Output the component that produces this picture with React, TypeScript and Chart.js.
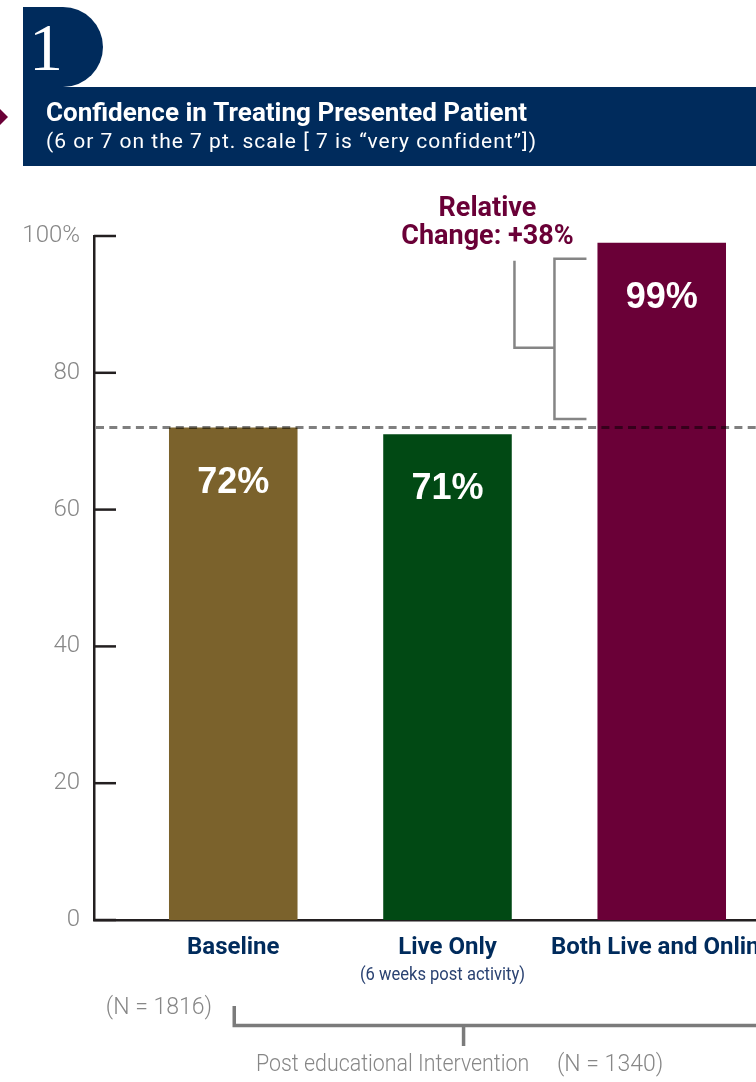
import React, { useEffect, useRef } from 'react';
import { Chart, registerables } from 'chart.js';

Chart.register(...registerables);

// ---- data ----
const categories = ['Baseline', 'Live Only', 'Both Live and Online'];
const subLabels = ['', '(6 weeks post activity)', ''];
const values = [72, 71, 99];
const barColors = ['#7b622c', '#014914', '#6a0037'];
const yTicks = [0, 20, 40, 60, 80, 100];
const baselineN = '(N = 1816)';
const postN = '(N = 1340)';
const postLabel = 'Post educational Intervention';
const panelNumber = '1';
const title = 'Confidence in Treating Presented Patient';
const subtitle = '(6 or 7 on the 7 pt. scale [ 7 is \u201cvery confident\u201d])';

// relative change between baseline and the combined live + online group
const relativeChange = Math.round(((values[2] - values[0]) / values[0]) * 100);

// ---- styles ----
const W = 756;
const H = 1082;
const NAVY = '#002b5c';
const MAROON = '#6a0037';
const AXIS = '#231f20';
const GRAY_TEXT = '#878787';
const BRACKET = '#858585';

function drawText(
  ctx: CanvasRenderingContext2D,
  text: string,
  x: number,
  y: number,
  font: string,
  color: string,
  align: CanvasTextAlign = 'left',
  squeeze = 1,
  spacing = 0
) {
  ctx.save();
  ctx.font = font;
  ctx.fillStyle = color;
  ctx.textBaseline = 'alphabetic';
  ctx.textAlign = align;
  (ctx as any).letterSpacing = `${spacing}px`;
  ctx.translate(x, y);
  ctx.scale(squeeze, 1);
  ctx.fillText(text, 0, 0);
  ctx.restore();
}

function line(ctx: CanvasRenderingContext2D, pts: number[][], color: string, width: number) {
  ctx.save();
  ctx.strokeStyle = color;
  ctx.lineWidth = width;
  ctx.lineJoin = 'miter';
  ctx.beginPath();
  pts.forEach(([x, y], i) => (i === 0 ? ctx.moveTo(x, y) : ctx.lineTo(x, y)));
  ctx.stroke();
  ctx.restore();
}

// header: panel badge, title banner and the small pointer on the left
const headerPlugin = {
  id: 'header',
  beforeDraw(chart: Chart) {
    const ctx = chart.ctx;
    ctx.save();
    ctx.fillStyle = '#ffffff';
    ctx.fillRect(0, 0, chart.width, chart.height);

    ctx.fillStyle = MAROON;
    ctx.beginPath();
    ctx.moveTo(0, 109);
    ctx.lineTo(8, 117);
    ctx.lineTo(0, 125);
    ctx.closePath();
    ctx.fill();

    ctx.fillStyle = NAVY;
    ctx.beginPath();
    ctx.moveTo(23, 7);
    ctx.lineTo(63, 7);
    ctx.arc(63, 47, 40, -Math.PI / 2, Math.PI / 2);
    ctx.lineTo(23, 87);
    ctx.closePath();
    ctx.fill();
    ctx.fillRect(23, 87, chart.width - 23, 79);
    ctx.restore();

    drawText(ctx, panelNumber, 46, 70, "68px 'Liberation Serif'", '#ffffff', 'center');
    drawText(ctx, title, 46, 120.5, 'bold 26px Roboto', '#ffffff');
    drawText(ctx, subtitle, 46, 148, '21px Roboto', '#ffffff', 'left', 1, 1);
  },
};

// axis ticks pointing inward, reference line, value labels and annotations
const annotationPlugin = {
  id: 'annotations',
  afterDatasetsDraw(chart: Chart) {
    const ctx = chart.ctx;
    const xs = chart.scales.x;
    const ys = chart.scales.y;
    const area = chart.chartArea;
    const meta = chart.getDatasetMeta(0);

    // inward tick marks on the value axis
    yTicks.forEach((v) => {
      const y = ys.getPixelForValue(v);
      line(ctx, [[area.left, y], [area.left + 22, y]], AXIS, 2.5);
    });

    // dashed baseline reference
    const baseY = ys.getPixelForValue(values[0]);
    ctx.save();
    ctx.strokeStyle = 'rgba(0,0,0,0.5)';
    ctx.lineWidth = 3;
    ctx.setLineDash([8, 5.3]);
    ctx.beginPath();
    ctx.moveTo(area.left + 2, baseY);
    ctx.lineTo(area.right, baseY);
    ctx.stroke();
    ctx.restore();

    // value labels inside the bars
    meta.data.forEach((el: any, i: number) => {
      drawText(ctx, `${values[i]}%`, el.x, el.y + 65, "bold 36px 'Liberation Sans'", '#ffffff', 'center');
    });

    // category labels
    categories.forEach((c, i) => {
      const x = xs.getPixelForValue(i);
      drawText(ctx, c, x, 954, 'bold 24px Roboto', NAVY, 'center');
      if (subLabels[i]) drawText(ctx, subLabels[i], x - 5, 980, '18px Roboto', '#2a4272', 'center', 0.92);
    });

    // relative change bracket
    const top: any = meta.data[2];
    const barLeft = top.x - top.width / 2;
    const yTop = top.y + 16;
    const yBot = baseY - 8.5;
    const spine = barLeft - 43;
    const armEnd = barLeft - 11;
    const stubX = barLeft - 83;
    const stubY = yTop + 89;
    line(ctx, [[armEnd, yTop], [spine, yTop], [spine, yBot], [armEnd, yBot]], BRACKET, 2.5);
    line(ctx, [[stubX, yTop + 2], [stubX, stubY], [spine, stubY]], BRACKET, 2.5);
    drawText(ctx, 'Relative', stubX - 27, yTop - 42.5, 'bold 27px Roboto', MAROON, 'center');
    drawText(ctx, `Change: +${relativeChange}%`, stubX - 27, yTop - 15, 'bold 27px Roboto', MAROON, 'center');

    // sample sizes and post-intervention bracket
    const bx = xs.getPixelForValue(0) + 1;
    const by = 1025.5;
    const midX = xs.getPixelForValue(1.075);
    line(ctx, [[bx, 1006], [bx, by], [chart.width, by]], '#7b7b7b', 3.5);
    line(ctx, [[midX, by], [midX, 1046]], '#7b7b7b', 3.5);
    drawText(ctx, baselineN, 212, 1013.5, '300 23px Roboto', GRAY_TEXT, 'right');
    drawText(ctx, postLabel, 256, 1071, '300 23px Roboto', GRAY_TEXT, 'left', 0.93);
    drawText(ctx, postN, 557, 1071, '300 23px Roboto', GRAY_TEXT, 'left');
  },
};

export default function App() {
  const canvasRef = useRef<HTMLCanvasElement | null>(null);

  useEffect(() => {
    if (!canvasRef.current) return;
    const chart = new Chart(canvasRef.current, {
      type: 'bar',
      data: {
        datasets: [
          {
            data: values.map((v, i) => ({ x: i, y: v })),
            backgroundColor: barColors,
            borderWidth: 0,
            barPercentage: 0.6,
            categoryPercentage: 1,
          },
        ],
      },
      options: {
        responsive: false,
        animation: false,
        devicePixelRatio: 1,
        layout: { padding: { top: 236, left: 0, right: 0, bottom: 0 } },
        plugins: { legend: { display: false }, tooltip: { enabled: false } },
        scales: {
          x: {
            type: 'linear',
            min: -0.65,
            max: 2.44,
            offset: false,
            grid: { display: false, drawTicks: false },
            border: { display: true, color: AXIS, width: 2.5 },
            ticks: { display: false },
            afterBuildTicks: (s: any) => {
              s.ticks = categories.map((_, i) => ({ value: i }));
            },
            afterFit: (s: any) => {
              s.height = 162;
            },
          },
          y: {
            min: 0,
            max: 100,
            grid: { display: false, drawTicks: false },
            border: { display: true, color: AXIS, width: 2.5 },
            ticks: {
              padding: 14,
              color: GRAY_TEXT,
              font: { family: 'Roboto', weight: 300, size: 24 },
              callback: (v: any) => (v === 100 ? '100%' : String(v)),
            },
            afterBuildTicks: (s: any) => {
              s.ticks = yTicks.map((v) => ({ value: v }));
            },
            afterFit: (s: any) => {
              s.width = 94;
            },
          },
        },
      } as any,
      plugins: [headerPlugin, annotationPlugin],
    });
    return () => chart.destroy();
  }, []);

  return (
    <div style={{ position: 'absolute', left: 0, top: 0, width: W, height: H, overflow: 'hidden' }}>
      <canvas ref={canvasRef} width={W} height={H} style={{ display: 'block', width: W, height: H }} />
    </div>
  );
}
